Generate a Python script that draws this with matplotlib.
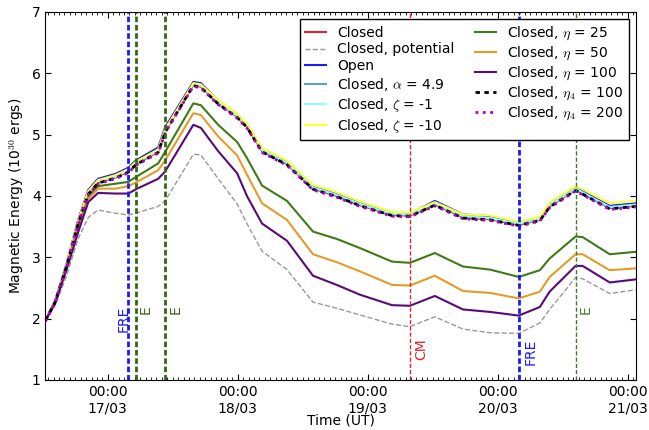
#!/usr/bin/env python3
# -*- coding: utf-8 -*-
"""Magnetic energy time series for the closed/open/resistive runs."""

import matplotlib

matplotlib.use("Agg")
import matplotlib.dates as mdates
import matplotlib.pyplot as plt
import pandas as pd

plt.rcParams["mathtext.fontset"] = "cm"

# snapshot times, hours after 17/03 00:00 UT
hours = [-11.5, -9.7, -7.6, -5.5, -3.6, -1.8, 1.4, 3.8, 5.2, 9.3, 10.6,
         15.8, 17.2, 20.4, 23.9, 25.7, 28.5, 33.1, 37.9, 42.3, 46.6, 52.5,
         55.8, 60.4, 65.6, 70.6, 75.9, 79.8, 81.6, 86.4, 87.7, 92.7, 97.5]

# magnetic energy, 1e30 erg
closed = [1.97, 2.28, 2.87, 3.55, 4.04, 4.22, 4.30, 4.40, 4.52, 4.72, 5.05,
          5.81, 5.78, 5.51, 5.29, 5.13, 4.73, 4.52, 4.12, 4.00, 3.85, 3.69,
          3.68, 3.86, 3.65, 3.62, 3.53, 3.61, 3.83, 4.10, 4.04, 3.80, 3.84]
potential = [1.97, 2.22, 2.70, 3.30, 3.65, 3.77, 3.72, 3.69, 3.72, 3.83, 3.92,
             4.68, 4.67, 4.28, 3.87, 3.55, 3.10, 2.80, 2.27, 2.17, 2.06, 1.91,
             1.87, 2.03, 1.83, 1.77, 1.76, 1.93, 2.15, 2.67, 2.65, 2.41, 2.47]
open_ = [1.97, 2.30, 2.90, 3.60, 4.10, 4.28, 4.36, 4.46, 4.58, 4.79, 5.12,
         5.86, 5.84, 5.55, 5.33, 5.16, 4.76, 4.55, 4.15, 4.04, 3.90, 3.72,
         3.71, 3.92, 3.70, 3.67, 3.56, 3.64, 3.87, 4.13, 4.08, 3.84, 3.88]
alpha49 = [1.97, 2.28, 2.88, 3.56, 4.05, 4.23, 4.31, 4.41, 4.53, 4.73, 5.06,
           5.82, 5.79, 5.52, 5.30, 5.14, 4.74, 4.53, 4.13, 4.01, 3.86, 3.70,
           3.69, 3.87, 3.66, 3.63, 3.54, 3.62, 3.84, 4.11, 4.05, 3.81, 3.85]
zeta1 = [1.97, 2.28, 2.88, 3.57, 4.06, 4.24, 4.32, 4.42, 4.54, 4.74, 5.07,
         5.83, 5.80, 5.53, 5.31, 5.15, 4.75, 4.54, 4.14, 4.02, 3.87, 3.71,
         3.70, 3.88, 3.67, 3.64, 3.55, 3.63, 3.85, 4.12, 4.06, 3.82, 3.86]
zeta10 = [1.97, 2.29, 2.89, 3.58, 4.08, 4.26, 4.34, 4.44, 4.56, 4.76, 5.09,
          5.84, 5.82, 5.56, 5.34, 5.18, 4.78, 4.58, 4.18, 4.06, 3.91, 3.74,
          3.73, 3.90, 3.70, 3.68, 3.58, 3.66, 3.89, 4.16, 4.11, 3.88, 3.92]
eta25 = [1.97, 2.28, 2.85, 3.50, 3.98, 4.16, 4.20, 4.23, 4.31, 4.53, 4.72,
         5.51, 5.48, 5.16, 4.88, 4.62, 4.17, 3.92, 3.42, 3.30, 3.15, 2.93,
         2.91, 3.07, 2.85, 2.80, 2.68, 2.79, 2.98, 3.34, 3.33, 3.05, 3.09]
eta50 = [1.97, 2.27, 2.83, 3.45, 3.95, 4.12, 4.12, 4.16, 4.22, 4.42, 4.58,
         5.35, 5.32, 4.97, 4.66, 4.35, 3.88, 3.61, 3.05, 2.92, 2.77, 2.55,
         2.54, 2.70, 2.45, 2.42, 2.33, 2.44, 2.68, 3.05, 3.05, 2.79, 2.82]
eta100 = [1.97, 2.26, 2.80, 3.40, 3.90, 4.05, 4.04, 4.04, 4.11, 4.28, 4.40,
          5.16, 5.11, 4.73, 4.37, 4.00, 3.55, 3.27, 2.70, 2.55, 2.39, 2.22,
          2.21, 2.37, 2.15, 2.11, 2.05, 2.19, 2.44, 2.86, 2.86, 2.59, 2.64]
eta4_100 = [1.97, 2.27, 2.86, 3.54, 4.03, 4.21, 4.29, 4.39, 4.51, 4.71, 5.04,
            5.80, 5.77, 5.50, 5.28, 5.12, 4.72, 4.51, 4.11, 3.99, 3.84, 3.68,
            3.67, 3.85, 3.64, 3.61, 3.52, 3.60, 3.82, 4.09, 4.03, 3.79, 3.83]
eta4_200 = [1.96, 2.26, 2.85, 3.53, 4.02, 4.20, 4.28, 4.38, 4.50, 4.70, 5.03,
            5.79, 5.76, 5.49, 5.27, 5.11, 4.71, 4.50, 4.10, 3.98, 3.83, 3.67,
            3.66, 3.84, 3.63, 3.60, 3.51, 3.59, 3.81, 4.08, 4.02, 3.78, 3.82]

# observed events (hours after 17/03 00:00) and their labels
event_hours = [3.8, 5.2, 10.6, 55.8, 75.9, 86.4]
event_labels = ["FRE", "E", "E", "CM", "FRE", "E"]
event_colors = ["#1a1aff", "#2f6a0f", "#2f6a0f", "#e0242c", "#1a1aff", "#3f7a2a"]
event_widths = [2.0, 2.0, 2.0, 1.0, 2.0, 1.0]
event_ha = ["right", "left", "left", "left", "left", "left"]
event_text_dx = [0.4, 0.5, 0.7, 0.85, 0.9, 0.55]  # hours
event_text_y = [2.22, 2.22, 2.22, 1.68, 1.68, 2.22]

T0 = pd.Timestamp("2016-03-17 00:00")


def to_time(h_list):
    return (T0 + pd.to_timedelta(h_list, unit="h")).to_pydatetime()


def main() -> None:
    t = to_time(hours)
    fig = plt.figure(figsize=(6.49, 4.30), dpi=100)
    ax = fig.add_axes([0.0701, 0.1163, 0.9094, 0.8558])

    ax.plot(t, closed, color="#e0242c", lw=1.5, label="Closed")
    ax.plot(t, potential, color="#999999", lw=1.0, ls="--",
            label="Closed, potential")
    ax.plot(t, open_, color="#1a1aff", lw=1.5, label="Open")
    ax.plot(t, alpha49, color="#5fa8a8", lw=1.5,
            label=r"Closed, $\alpha$ = 4.9")
    ax.plot(t, zeta1, color="#8ffcfc", lw=1.5, label=r"Closed, $\zeta$ = -1")
    ax.plot(t, zeta10, color="#ffff33", lw=1.5,
            label=r"Closed, $\zeta$ = -10")
    ax.plot(t, eta25, color="#3f7a16", lw=1.5, label=r"Closed, $\eta$ = 25")
    ax.plot(t, eta50, color="#e39b2a", lw=1.5, label=r"Closed, $\eta$ = 50")
    ax.plot(t, eta100, color="#5a0a78", lw=1.5,
            label=r"Closed, $\eta$ = 100")
    ax.plot(t, eta4_100, color="black", lw=2.0, dashes=(1.6, 1.6),
            label=r"Closed, $\eta_4$ = 100")
    ax.plot(t, eta4_200, color="#b000c8", lw=2.0, ls=":",
            label=r"Closed, $\eta_4$ = 200")

    for h, lab, col, lw, ha, dx, ty in zip(event_hours, event_labels,
                                            event_colors, event_widths,
                                            event_ha, event_text_dx,
                                            event_text_y):
        when = to_time([h])[0]
        ax.axvline(when, color=col, lw=lw,
                   dashes=(2, 1) if lw > 1 else (3, 1.5))
        ax.text(to_time([h + dx])[0], ty, lab, color=col, rotation=90,
                ha=ha, va="top", fontsize=10)

    ax.set_xlim(to_time([-11.5])[0], to_time([97.5])[0])
    ax.set_ylim(1, 7)
    ax.xaxis.set_major_locator(mdates.HourLocator(byhour=[0]))
    ax.xaxis.set_major_formatter(mdates.DateFormatter("%H:%M\n%d/%m"))
    ax.xaxis.set_minor_locator(mdates.HourLocator())
    ax.set_yticks(range(1, 8))
    ax.tick_params(which="both", direction="in", top=True, right=True,
                   labelsize=10)
    ax.tick_params(which="major", length=4)
    ax.tick_params(which="minor", length=2)
    ax.set_xlabel("Time (UT)", fontsize=10, labelpad=-1)
    ax.set_ylabel(r"Magnetic Energy (10$^{30}$ ergs)", fontsize=10)

    leg = ax.legend(loc="upper right", ncol=2, fontsize=10, fancybox=False,
                    framealpha=1, edgecolor="black", handlelength=1.5,
                    labelspacing=0.2, columnspacing=1.5, borderaxespad=0.5)
    leg.get_frame().set_linewidth(1.0)

    fig.savefig("out.png", dpi=100)
    plt.close(fig)


if __name__ == "__main__":
    main()
